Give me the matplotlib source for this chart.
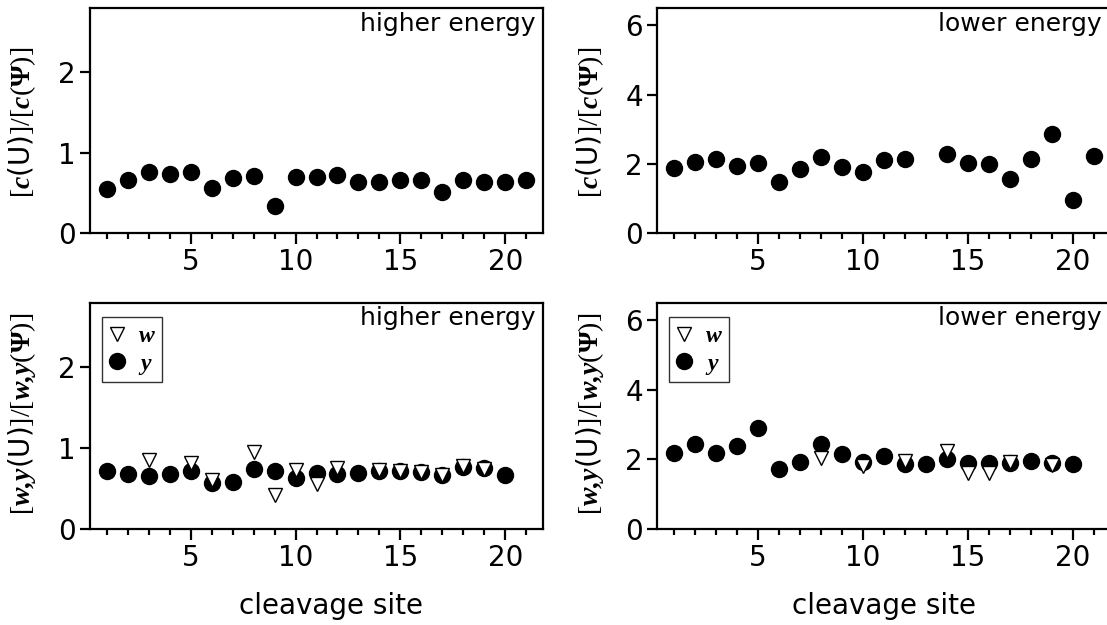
import numpy as np
import matplotlib
matplotlib.use("Agg")
import matplotlib.pyplot as plt
from matplotlib.ticker import MultipleLocator

plt.rcParams['font.family'] = ['DejaVu Sans']
plt.rcParams['mathtext.fontset'] = 'custom'
plt.rcParams['mathtext.rm'] = 'Liberation Serif'
plt.rcParams['mathtext.it'] = 'Liberation Serif:italic'
plt.rcParams['mathtext.bf'] = 'Liberation Serif:bold'
plt.rcParams['mathtext.bfit'] = 'Liberation Serif:bold:italic'

nan = np.nan
sites_c = list(range(1, 22))
c_high = [0.55, 0.66, 0.76, 0.74, 0.76, 0.56, 0.68, 0.71, 0.34, 0.70, 0.70,
          0.72, 0.64, 0.64, 0.66, 0.66, 0.51, 0.66, 0.64, 0.64, 0.66]
c_low = [1.88, 2.04, 2.15, 1.93, 2.03, 1.47, 1.86, 2.19, 1.90, 1.76, 2.12,
         2.14, nan, 2.27, 2.03, 2.00, 1.56, 2.14, 2.87, 0.96, 2.22]

sites_wy = list(range(1, 21))
y_high = [0.71, 0.675, 0.65, 0.68, 0.71, 0.56, 0.58, 0.74, 0.71, 0.625,
          0.69, 0.675, 0.69, 0.72, 0.71, 0.70, 0.66, 0.76, 0.75, 0.67]
w_high = [nan, nan, 0.85, nan, 0.81, 0.60, nan, 0.95, 0.42, 0.73,
          0.55, 0.75, nan, 0.73, 0.71, 0.70, 0.66, 0.78, 0.74, nan]
y_low = [2.19, 2.45, 2.17, 2.38, 2.91, 1.72, 1.91, 2.45, 2.14, 1.93,
         2.09, 1.86, 1.86, 1.99, 1.88, 1.90, 1.88, 1.95, 1.88, 1.86]
w_low = [nan, nan, nan, nan, nan, nan, nan, 2.02, nan, 1.80,
         nan, 1.95, nan, 2.24, 1.59, 1.59, 1.91, nan, 1.83, nan]

W, H = 1107, 625
fig = plt.figure(figsize=(W / 100, H / 100), dpi=100)

def add_ax(left, right, top, bottom):
    return fig.add_axes([left / W, 1 - bottom / H, (right - left) / W, (bottom - top) / H])

def ftext(x, y, s, **kw):
    return fig.text(x / W, 1 - y / H, s, **kw)

ax_tl = add_ax(90, 543, 8, 233)
ax_tr = add_ax(657, 1111, 8, 233)
ax_bl = add_ax(90, 543, 303, 528.5)
ax_br = add_ax(657, 1111, 303, 528.5)

tick_fs = 20
ylab_fs = 20

for ax, ymax, yt in [(ax_tl, 2.8, [0, 1, 2]), (ax_tr, 6.5, [0, 2, 4, 6]),
                     (ax_bl, 2.8, [0, 1, 2]), (ax_br, 6.5, [0, 2, 4, 6])]:
    ax.set_xlim(0.2, 21.8)
    ax.set_ylim(0, ymax)
    ax.set_yticks(yt)
    ax.xaxis.set_major_locator(MultipleLocator(5))
    ax.xaxis.set_minor_locator(MultipleLocator(1))
    for s in ax.spines.values():
        s.set_linewidth(1.6)
    ax.tick_params(axis='both', which='major', direction='out', width=1.6,
                   length=7, labelsize=tick_fs, pad=3)
    ax.tick_params(axis='x', which='major', length=8)
    ax.tick_params(axis='x', which='minor', direction='out', width=1.6, length=4)
    ax.tick_params(axis='y', which='minor', length=0)

ms_c = 11.5
ms_t = 10

ax_tl.plot(sites_c, c_high, 'o', color='black', ms=ms_c, linestyle='none')
ax_tr.plot(sites_c, c_low, 'o', color='black', ms=ms_c, linestyle='none')

for ax, yv, wv in [(ax_bl, y_high, w_high), (ax_br, y_low, w_low)]:
    ax.plot(sites_wy, yv, 'o', color='black', ms=ms_c, linestyle='none',
            label=r'$\mathbfit{y}$', zorder=3)
    ax.plot(sites_wy, wv, 'v', mfc='white', mec='black', mew=1.0, ms=ms_t,
            linestyle='none', label=r'$\mathbfit{w}$', zorder=4)
    h, l = ax.get_legend_handles_labels()
    leg = ax.legend(h[::-1], l[::-1], loc='upper left', fontsize=17,
                    frameon=True, fancybox=False, borderaxespad=0.5,
                    handlelength=0.8, handletextpad=0.5, borderpad=0.25,
                    labelspacing=0.15, bbox_to_anchor=(0.0, 0.99))
    leg.get_frame().set_edgecolor('black')
    leg.get_frame().set_linewidth(1.0)

ann_fs = 18
ftext(536, 12, 'higher energy', ha='right', va='top', fontsize=ann_fs)
ftext(1102, 12, 'lower energy', ha='right', va='top', fontsize=ann_fs)
ftext(536, 306, 'higher energy', ha='right', va='top', fontsize=ann_fs)
ftext(1102, 306, 'lower energy', ha='right', va='top', fontsize=ann_fs)

lab_c = r'$[\mathbfit{c}$(U)$]/[\mathbfit{c}(\mathbf{\Psi})]$'
lab_wy = r'$[\mathbfit{w{,}y}$(U)$]/[\mathbfit{w{,}y}(\mathbf{\Psi})]$'

ftext(22, 122, lab_c, rotation=90, ha='center', va='center', fontsize=ylab_fs)
ftext(590, 122, lab_c, rotation=90, ha='center', va='center', fontsize=ylab_fs)
ftext(22, 414, lab_wy, rotation=90, ha='center', va='center', fontsize=ylab_fs)
ftext(590, 414, lab_wy, rotation=90, ha='center', va='center', fontsize=ylab_fs)

ftext(331, 606, 'cleavage site', ha='center', va='center', fontsize=tick_fs)
ftext(884, 606, 'cleavage site', ha='center', va='center', fontsize=tick_fs)

fig.savefig('out.png', dpi=100)
